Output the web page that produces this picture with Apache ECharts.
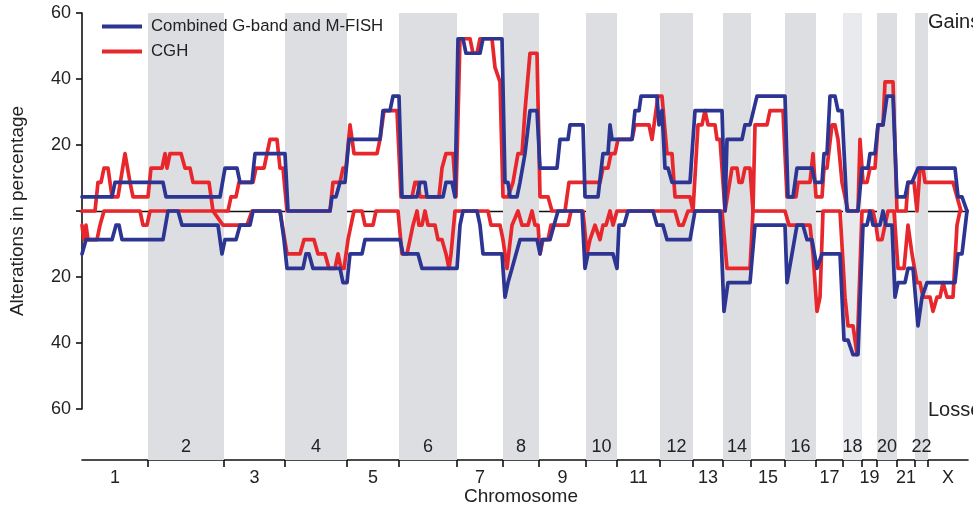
<!DOCTYPE html>
<html><head><meta charset="utf-8">
<script src="https://cdn.jsdelivr.net/npm/echarts@6/dist/echarts.min.js"></script>
<style>html,body{margin:0;padding:0;background:#fff}#c{width:973px;height:511px}</style>
</head><body><div id="c"></div>
<script>
// Chromosome names and their lengths (in plot position units)
const chromosomes = ['1','2','3','4','5','6','7','8','9','10','11','12','13','14','15','16','17','18','19','20','21','22','X'];
const chromLengths = [66,76,61,62,52,58,46,36,47,31,43,33,30,28,34,31,27,19,15,20,18,13,40];

// [position, percentage] ; losses negative
const blueGain = [[0,4.3],[30,4.3],[33,8.7],[81,8.7],[84,4.3],[138,4.3],[143,13],[155,13],[158,8.7],[170,8.7],[173,17.4],[203,17.4],[206,0],[248,0],[250,4.3],[254,4.3],[258,8.7],[263,8.7],[267,21.7],[298,21.7],[301,30.4],[308,30.4],[311,34.8],[317,34.8],[320,4.3],[335,4.3],[338,8.7],[343,8.7],[345,4.3],[361,4.3],[364,8.7],[370,8.7],[373,4.3],[374,4.3],[376,52.2],[381,52.2],[384,47.8],[398,47.8],[401,52.2],[420,52.2],[423,8.7],[426,8.7],[428,4.3],[435,4.3],[438,8.7],[443,17.4],[448,30.4],[455,30.4],[458,13],[475,13],[478,21.7],[486,21.7],[488,26.1],[501,26.1],[503,4.3],[516,4.3],[521,17.4],[526,17.4],[528,26.1],[530,21.7],[550,21.7],[553,30.4],[557,30.4],[559,34.8],[575,34.8],[577,26.1],[580,30.4],[583,13],[586,13],[590,8.7],[608,8.7],[613,30.4],[640,30.4],[643,0],[645,21.7],[660,21.7],[663,26.1],[668,26.1],[675,34.8],[703,34.8],[706,4.3],[711,4.3],[715,13],[730,13],[733,8.7],[740,8.7],[742,17.4],[745,17.4],[748,34.8],[753,34.8],[756,30.4],[760,30.4],[765,0],[776,0],[780,13],[786,13],[788,17.4],[793,17.4],[796,26.1],[801,26.1],[805,34.8],[811,34.8],[815,4.3],[823,4.3],[826,8.7],[830,8.7],[836,13],[873,13],[876,4.3],[880,4.3],[885,0]];

const blueLoss = [[0,-13],[4,-8.7],[30,-8.7],[34,-4.3],[37,-4.3],[40,-8.7],[81,-8.7],[86,0],[96,0],[100,-4.3],[136,-4.3],[140,-13],[143,-8.7],[154,-8.7],[158,-4.3],[168,-4.3],[171,0],[198,0],[202,-8.7],[205,-17.4],[221,-17.4],[224,-13],[227,-13],[231,-17.4],[258,-17.4],[261,-21.7],[265,-21.7],[268,-13],[280,-13],[283,-8.7],[318,-8.7],[321,-13],[336,-13],[340,-17.4],[375,-17.4],[378,-4.3],[381,0],[395,0],[398,-4.3],[401,-13],[420,-13],[423,-26.1],[426,-21.7],[430,-17.4],[434,-13],[438,-8.7],[455,-8.7],[458,-13],[460,-8.7],[468,-8.7],[472,-4.3],[476,0],[500,0],[503,-17.4],[506,-13],[531,-13],[535,-17.4],[537,-4.3],[542,-4.3],[546,0],[571,0],[575,-4.3],[581,-4.3],[585,-8.7],[608,-8.7],[613,0],[638,0],[642,-30.4],[646,-21.7],[668,-21.7],[673,-4.3],[703,-4.3],[705,-21.7],[710,-13],[715,-4.3],[721,-4.3],[725,-8.7],[730,-8.7],[735,-17.4],[740,-13],[758,-13],[762,-39.1],[766,-39.1],[771,-43.5],[776,-43.5],[781,-4.3],[785,-4.3],[788,0],[791,-4.3],[798,-4.3],[801,0],[804,-4.3],[810,-4.3],[813,-26.1],[816,-21.7],[823,-21.7],[826,-17.4],[831,-17.4],[836,-34.8],[840,-26.1],[845,-21.7],[873,-21.7],[876,-13],[880,-13],[885,0]];

const redGain = [[0,0],[13,0],[16,8.7],[19,8.7],[22,13],[26,13],[30,4.3],[36,4.3],[43,17.4],[48,8.7],[51,4.3],[66,4.3],[69,13],[80,13],[83,17.4],[85,13],[88,17.4],[99,17.4],[103,13],[108,13],[111,8.7],[127,8.7],[131,0],[146,0],[149,4.3],[154,4.3],[157,8.7],[171,8.7],[174,13],[182,13],[185,17.4],[188,21.7],[195,21.7],[198,13],[201,13],[205,0],[248,0],[251,8.7],[258,8.7],[261,13],[264,13],[268,26.1],[272,17.4],[295,17.4],[298,21.7],[302,30.4],[315,30.4],[319,4.3],[330,4.3],[333,8.7],[336,8.7],[338,4.3],[357,4.3],[360,13],[362,13],[364,17.4],[371,17.4],[374,4.3],[378,52.2],[388,52.2],[391,47.8],[395,47.8],[398,52.2],[410,52.2],[413,43.5],[418,39.1],[421,4.3],[426,4.3],[431,8.7],[436,17.4],[440,17.4],[443,30.4],[448,47.8],[455,47.8],[458,4.3],[466,4.3],[470,0],[483,0],[487,8.7],[518,8.7],[521,13],[526,13],[529,17.4],[533,17.4],[536,21.7],[550,21.7],[553,26.1],[567,26.1],[570,21.7],[572,21.7],[576,34.8],[580,34.8],[585,17.4],[590,17.4],[593,4.3],[608,4.3],[611,0],[616,26.1],[620,26.1],[623,30.4],[626,26.1],[633,26.1],[635,21.7],[638,21.7],[643,0],[650,13],[655,13],[657,8.7],[660,8.7],[663,13],[668,13],[671,0],[673,26.1],[685,26.1],[688,30.4],[701,30.4],[705,4.3],[714,4.3],[716,8.7],[728,8.7],[731,17.4],[734,4.3],[740,4.3],[742,13],[745,13],[750,26.1],[753,26.1],[756,21.7],[760,8.7],[766,0],[776,0],[778,21.7],[781,8.7],[785,8.7],[788,13],[793,13],[796,26.1],[801,26.1],[803,39.1],[811,39.1],[815,0],[824,0],[826,8.7],[832,8.7],[835,0],[838,13],[841,13],[843,8.7],[871,8.7],[875,4.3],[879,0]];

const redLoss = [[0,-4.3],[2,-8.7],[4,-4.3],[6,-8.7],[15,-8.7],[18,-4.3],[22,0],[58,0],[61,-4.3],[65,-4.3],[68,0],[131,0],[141,-4.3],[165,-4.3],[170,0],[198,0],[205,-13],[218,-13],[222,-8.7],[232,-8.7],[236,-13],[243,-13],[247,-17.4],[253,-17.4],[256,-13],[259,-17.4],[262,-17.4],[266,-8.7],[269,-4.3],[272,0],[280,0],[283,-4.3],[291,-4.3],[294,0],[316,0],[320,-13],[325,-13],[328,-8.7],[331,-4.3],[335,0],[337,-4.3],[340,-4.3],[343,0],[346,-4.3],[353,-4.3],[356,-8.7],[360,-8.7],[364,-13],[367,-17.4],[369,-13],[373,0],[406,0],[409,-4.3],[418,-4.3],[421,-8.7],[425,-17.4],[430,-4.3],[436,0],[440,-4.3],[446,-4.3],[450,0],[453,-4.3],[456,-4.3],[458,-13],[461,-8.7],[466,-8.7],[469,-4.3],[486,-4.3],[489,0],[501,0],[505,-13],[508,-8.7],[513,-4.3],[518,-8.7],[521,-4.3],[524,-4.3],[528,0],[531,-4.3],[535,0],[593,0],[597,-4.3],[601,-4.3],[606,0],[640,0],[645,-17.4],[668,-17.4],[671,0],[703,0],[707,-4.3],[728,-4.3],[731,-13],[735,-30.4],[738,-26.1],[741,0],[758,0],[763,-26.1],[766,-34.8],[771,-34.8],[775,-43.5],[780,0],[791,0],[794,-4.3],[796,-8.7],[800,-8.7],[803,-4.3],[806,0],[812,0],[816,-17.4],[822,-17.4],[826,-4.3],[830,-13],[835,-21.7],[838,-21.7],[841,-26.1],[848,-26.1],[851,-30.4],[855,-26.1],[858,-26.1],[861,-21.7],[865,-26.1],[871,-26.1],[875,-4.3],[878,0]];

const BLUE = '#2d3592';
const RED = '#e8272d';
const FONT = '"Liberation Sans", Arial, Helvetica, sans-serif';
const NAME_BLUE = 'Combined G-band and M-FISH';
const NAME_RED = 'CGH';

const starts = [];
let acc = 0;
chromLengths.forEach(l => { starts.push(acc); acc += l; });
const total = acc;
const bandData = chromosomes.map((c, i) => [starts[i], starts[i] + chromLengths[i], i]);

const chart = echarts.init(document.getElementById('c'), null, {renderer: 'canvas'});
const lineSeries = (name, data, color, z) => ({
  type: 'line', name, data, xAxisIndex: 0, yAxisIndex: 0,
  showSymbol: false, symbol: 'none', color, z,
  lineStyle: {width: 3.7, color, join: 'round', cap: 'round'},
  emphasis: {disabled: true}, animation: false
});

chart.setOption({
  animation: false,
  grid: [
    {left: 80, width: 888, top: 13, height: 396},
    {left: 82, width: 886, top: 13, height: 447}
  ],
  xAxis: [
    {gridIndex: 0, type: 'value', min: -2, max: total, axisLine: {show: true, onZero: true, lineStyle: {color: '#111', width: 1.3}},
     axisTick: {show: false}, axisLabel: {show: false}, splitLine: {show: false}},
    {gridIndex: 1, type: 'value', min: 0, max: total, axisLine: {show: true, onZero: false, lineStyle: {color: '#111', width: 1.6}},
     axisTick: {show: false}, axisLabel: {show: false}, splitLine: {show: false}}
  ],
  yAxis: [
    {gridIndex: 0, type: 'value', min: -60, max: 60, interval: 20,
     axisLine: {show: true, lineStyle: {color: '#111', width: 1.6}},
     axisTick: {show: true, length: 6, lineStyle: {color: '#111', width: 1.6}},
     axisLabel: {margin: 9, color: '#222', fontSize: 18, fontFamily: FONT,
       formatter: v => v === 0 ? '' : String(Math.abs(v))},
     splitLine: {show: false}},
    {gridIndex: 1, type: 'value', min: 0, max: 1, show: false}
  ],
  legend: {
    orient: 'vertical', left: 97, top: 13, itemGap: 8, itemWidth: 40, itemHeight: 4,
    textStyle: {fontSize: 16.8, fontFamily: FONT, color: '#222', padding: [0, 0, 0, 4]},
    data: [{name: NAME_BLUE, icon: 'rect'}, {name: NAME_RED, icon: 'rect'}],
    selectedMode: false
  },
  graphic: [
    {type: 'text', x: 18, y: 211, rotation: Math.PI / 2,
     style: {text: 'Alterations in percentage', align: 'center', verticalAlign: 'middle', fontSize: 19, fontFamily: FONT, fill: '#222'}},
    {type: 'text', x: 521, y: 497,
     style: {text: 'Chromosome', align: 'center', verticalAlign: 'middle', fontSize: 19, fontFamily: FONT, fill: '#222'}},
    {type: 'text', x: 928, y: 22,
     style: {text: 'Gains', align: 'left', verticalAlign: 'middle', fontSize: 20, fontFamily: FONT, fill: '#222'}},
    {type: 'text', x: 928, y: 410,
     style: {text: 'Losses', align: 'left', verticalAlign: 'middle', fontSize: 20, fontFamily: FONT, fill: '#222'}}
  ],
  series: [
    {
      type: 'custom', xAxisIndex: 1, yAxisIndex: 1, z: 1, clip: false, silent: true,
      data: bandData,
      renderItem: (params, api) => {
        const s = api.value(0), e = api.value(1), i = api.value(2);
        const p0 = api.coord([s, 1]);
        const p1 = api.coord([e, 0]);
        const even = i % 2 === 1;
        const children = [];
        if (even) {
          children.push({type: 'rect', shape: {x: p0[0], y: p0[1], width: p1[0] - p0[0], height: p1[1] - p0[1]},
            style: {fill: chromosomes[i] === '18' ? '#e9eaed' : '#dcdee2'}});
        }
        if (i < chromosomes.length - 1) {
          children.push({type: 'line', shape: {x1: p1[0], y1: p1[1], x2: p1[0], y2: p1[1] + 7},
            style: {stroke: '#111', lineWidth: 1.6}});
        }
        const cx = (p0[0] + p1[0]) / 2;
        children.push({type: 'text', x: cx, y: even ? p1[1] - 13 : p1[1] + 18,
          style: {text: chromosomes[i], align: 'center', verticalAlign: 'middle', fontSize: 18, fontFamily: FONT, fill: '#222'}});
        return {type: 'group', children};
      }
    },
    lineSeries(NAME_RED, redGain, RED, 3),
    lineSeries(NAME_RED, redLoss, RED, 3),
    lineSeries(NAME_BLUE, blueGain, BLUE, 4),
    lineSeries(NAME_BLUE, blueLoss, BLUE, 4)
  ]
});
</script></body></html>
